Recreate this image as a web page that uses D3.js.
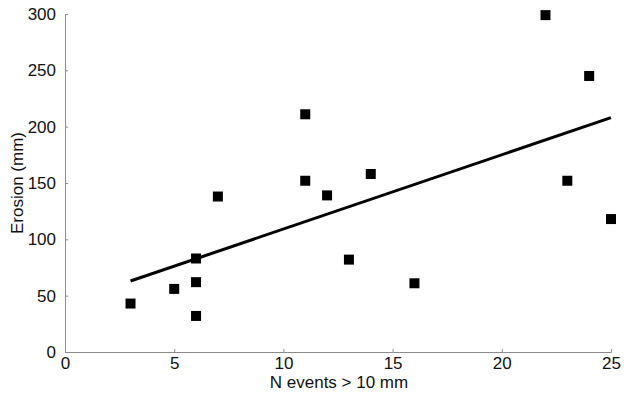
<!DOCTYPE html>
<html><head><meta charset="utf-8">
<script src="https://cdn.jsdelivr.net/npm/d3@7"></script>
<style>body{margin:0;background:#fff}text{font-family:"Liberation Sans",Arial,sans-serif}</style>
</head><body>
<svg id="c" width="624" height="394"></svg>
<script>
const nEvents = [3, 5, 6, 6, 6, 7, 11, 11, 12, 13, 14, 16, 22, 23, 24, 25];
const erosion = [43, 56, 83, 62, 32, 138, 211, 152, 139, 82, 158, 61, 299, 152, 245, 118];
const trendX = [3, 25];
const trendY = [63, 208];
const xTicks = [0, 5, 10, 15, 20, 25];
const yTicks = [0, 50, 100, 150, 200, 250, 300];

const svg = d3.select("#c");
const x = d3.scaleLinear().domain([0, 25]).range([65, 611]);
const y = d3.scaleLinear().domain([0, 300]).range([352, 14]);
const axisColor = "#8c8c8c";

const xa = svg.append("g").attr("transform", `translate(0,${y(0)})`)
  .call(d3.axisBottom(x).tickValues(xTicks).tickSize(-3).tickPadding(4));
const ya = svg.append("g").attr("transform", `translate(${x(0)},0)`)
  .call(d3.axisLeft(y).tickValues(yTicks).tickSize(-3).tickPadding(9));
[xa, ya].forEach(g => {
  g.select(".domain").attr("stroke", axisColor);
  g.selectAll(".tick line").attr("stroke", axisColor);
  g.selectAll(".tick text").attr("font-size", 17).attr("fill", "#111")
    .attr("font-family", "Liberation Sans, Arial, sans-serif");
});
xa.selectAll(".tick text").attr("dy", "0.75em");

svg.append("line")
  .attr("x1", x(trendX[0])).attr("y1", y(trendY[0]))
  .attr("x2", x(trendX[1])).attr("y2", y(trendY[1]))
  .attr("stroke", "#000").attr("stroke-width", 3);

const s = 10;
svg.selectAll("rect.pt").data(nEvents.map((d, i) => [d, erosion[i]])).join("rect")
  .attr("class", "pt")
  .attr("x", d => x(d[0]) - s / 2).attr("y", d => y(d[1]) - s / 2)
  .attr("width", s).attr("height", s).attr("fill", "#000");

svg.append("text").attr("x", 339).attr("y", 388).attr("text-anchor", "middle")
  .attr("font-size", 17).attr("fill", "#111").text("N events > 10 mm");
svg.append("text").attr("transform", "translate(23,183) rotate(-90)")
  .attr("text-anchor", "middle").attr("font-size", 17).attr("fill", "#111").text("Erosion (mm)");
</script>
</body></html>
